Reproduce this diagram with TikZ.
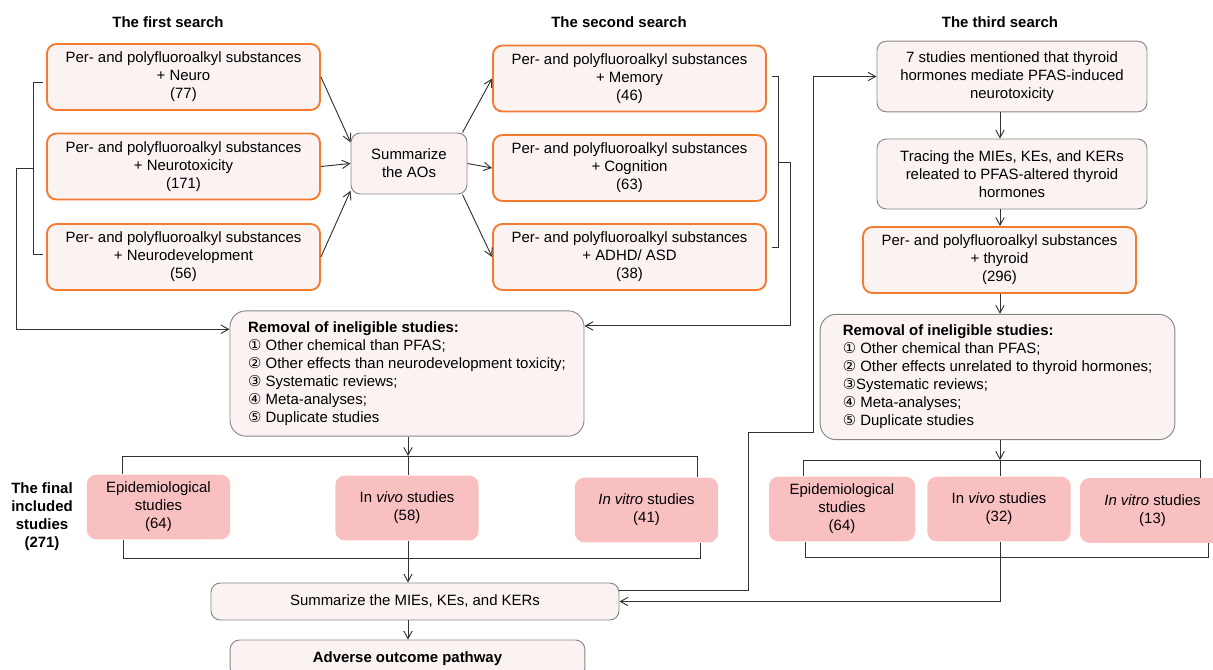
\documentclass[tikz,border=0pt]{standalone}
\usepackage{fontspec}
\setmainfont{Liberation Sans}
\newfontfamily\circfont{DejaVu Sans}
\usepackage{tikz}
\usetikzlibrary{arrows.meta,positioning,calc}
\definecolor{pfedge}{RGB}{50,50,50}
\definecolor{pforange}{RGB}{244,122,48}
\definecolor{pfgrey}{RGB}{135,135,135}
\definecolor{pffill}{RGB}{251,242,242}
\definecolor{pfpink}{RGB}{249,192,194}
\newcommand{\cnum}[1]{{\circfont #1}}
\tikzset{
  pfbox/.style={
    draw=pfgrey, fill=pffill, line width=0.7pt, rounded corners=7pt,
    align=center, inner sep=2pt, font=\fontsize{11.2}{13.5}\selectfont
  },
  srch/.style={pfbox, draw=pforange, line width=1.4pt,
    minimum width=204.75pt, minimum height=49.5pt},
  rmv/.style={pfbox, align=left, rounded corners=12pt,
    minimum width=265.5pt, minimum height=94pt},
  incl/.style={pfbox, draw=none, fill=pfpink,
    minimum width=107.5pt, minimum height=48.5pt},
  ttl/.style={font=\fontsize{11.2}{13.5}\selectfont\bfseries, align=center},
  line/.style={draw=pfedge, line width=0.7pt},
  arr/.style={line, -{Straight Barb[length=2mm,width=2.2mm]}}
}

\begin{document}
\begin{tikzpicture}[x=0.75pt, y=-0.75pt]
  \useasboundingbox (0,0) rectangle (1213,669);
  \node[ttl] (t1) at (168,22) {The first search};
  \node[ttl] (t2) at (619,22) {The second search};
  \node[ttl] (t3) at (1000,22) {The third search};

  \node[srch] (f1) at (183.5,77) {Per- and polyfluoroalkyl substances\\+ Neuro\\(77)};
  \node[srch] (f2) at (183.5,166.5) {Per- and polyfluoroalkyl substances\\+ Neurotoxicity\\(171)};
  \node[srch] (f3) at (183.5,257) {Per- and polyfluoroalkyl substances\\+ Neurodevelopment\\(56)};
  \node[pfbox, minimum width=87pt, minimum height=45.75pt] (sao) at (409,163.5) {Summarize\\the AOs};
  \node[srch] (s1) at (629.5,78.5) {Per- and polyfluoroalkyl substances\\+ Memory\\(46)};
  \node[srch] (s2) at (629.5,168) {Per- and polyfluoroalkyl substances\\+ Cognition\\(63)};
  \node[srch] (s3) at (629.5,257) {Per- and polyfluoroalkyl substances\\+ ADHD/ ASD\\(38)};

  \node[pfbox, minimum width=202.5pt, minimum height=53pt] (th1) at (1012,76.5)
    {7 studies mentioned that thyroid\\hormones mediate PFAS-induced\\neurotoxicity};
  \node[pfbox, minimum width=202.5pt, minimum height=52.5pt] (th2) at (1012,174)
    {Tracing the MIEs, KEs, and KERs\\releated to PFAS-altered thyroid\\hormones};
  \node[srch] (th3) at (999.5,260) {Per- and polyfluoroalkyl substances\\+ thyroid\\(296)};

  \node[rmv] (rm1) at (407,373.5) {\textbf{Removal of ineligible studies:}\\
    \cnum{①} Other chemical than PFAS;\\
    \cnum{②} Other effects than neurodevelopment toxicity;\\
    \cnum{③} Systematic reviews;\\
    \cnum{④} Meta-analyses;\\
    \cnum{⑤} Duplicate studies};
  \node[rmv, minimum width=266pt] (rm2) at (997.5,377) {\textbf{Removal of ineligible studies:}\\
    \cnum{①} Other chemical than PFAS;\\
    \cnum{②} Other effects unrelated to thyroid hormones;\\
    \cnum{③}Systematic reviews;\\
    \cnum{④} Meta-analyses;\\
    \cnum{⑤} Duplicate studies};

  \node[ttl] (fin) at (42,517) {The final\\included\\studies\\(271)};
  \node[incl] (ep1) at (158.5,507) {Epidemiological\\studies\\(64)};
  \node[incl] (iv1) at (407,508) {In \textit{vivo} studies\\(58)};
  \node[incl] (it1) at (646.5,510) {\textit{In vitro} studies\\(41)};
  \node[incl, minimum width=109.5pt] (ep2) at (842,509) {Epidemiological\\studies\\(64)};
  \node[incl] (iv2) at (999,509) {In \textit{vivo} studies\\(32)};
  \node[incl, minimum width=108.75pt] (it2) at (1152.5,510.5) {\textit{In vitro} studies\\(13)};

  \node[pfbox, minimum width=306pt, minimum height=27.75pt] (mie) at (415,601.5) {Summarize the MIEs, KEs, and KERs};
  \node[pfbox, minimum width=266pt, minimum height=28.5pt, font=\fontsize{11.2}{13.5}\selectfont\bfseries] (aop) at (407.5,659) {Adverse outcome pathway};

  % first and second search into the AOs
  \foreach \p/\a in {f1/160,f2/180,f3/205} \draw[arr] (\p.east) -- (sao.\a);
  \draw[arr] ($(sao.north east)+(-5,0)$) -- (s1.west);
  \draw[arr] (sao.east) -- (s2.west);
  \draw[arr] ($(sao.south east)+(-5,0)$) -- (s3.west);

  % brackets to the removal box
  \coordinate (lb1) at (33,82);
  \coordinate (lb2) at (33,254);
  \coordinate (lm) at (33,168);
  \draw[line] ($(lb1)+(10,0)$) -- (lb1) -- (lb2) -- ++(10,0);
  \draw[arr] (lm) -- ++(-17,0) |- (rm1.166);
  \coordinate (rb1) at (778,76);
  \coordinate (rb2) at (778,247);
  \coordinate (rm) at (778,162);
  \draw[line] ($(rb1)+(-6,0)$) -- (rb1) -- (rb2) -- ++(-6,0);
  \draw[arr] (rm) -- ++(12,0) |- (rm1.15);

  % left included studies
  \coordinate (a1) at (122,456);
  \coordinate (b1) at (697,456);
  \coordinate (u1) at (408,456);
  \coordinate (c1) at (123,558);
  \coordinate (d1) at (700,558);
  \coordinate (v1) at (408,558);
  \draw[arr] (u1 |- rm1.south) -- (u1);
  \draw[line] (a1 |- ep1.north) -- (a1) -- (b1) -- (b1 |- it1.north);
  \draw[line] (u1) -- (u1 |- iv1.north);
  \draw[line] (c1 |- ep1.south) -- (c1) -- (d1) -- (d1 |- it1.south);
  \draw[line] (v1 |- iv1.south) -- (v1);
  \draw[arr] (v1) -- (v1 |- mie.north);
  \draw[arr] (v1 |- mie.south) -- (v1 |- aop.north);

  % third search
  \coordinate (tcol) at (1000,0);
  \foreach \p/\q in {th1/th2,th2/th3,th3/rm2} \draw[arr] (tcol |- \p.south) -- (tcol |- \q.north);
  \coordinate (k0) at (748,590);
  \coordinate (k1) at (748,432);
  \coordinate (k2) at (813,432);
  \draw[arr] (mie.east |- k0) -- (k0) -- (k1) -- (k2) |- (th1.west);

  % right included studies
  \coordinate (a2) at (803,460);
  \coordinate (b2) at (1200,460);
  \coordinate (u2) at (1000,460);
  \coordinate (c2) at (805,557);
  \coordinate (d2) at (1208,557);
  \coordinate (v2) at (1000,557);
  \draw[arr] (u2 |- rm2.south) -- (u2);
  \draw[line] (a2 |- ep2.north) -- (a2) -- (b2) -- (b2 |- it2.north);
  \draw[line] (u2) -- (u2 |- iv2.north);
  \draw[line] (c2 |- ep2.south) -- (c2) -- (d2) -- (d2 |- it2.south);
  \draw[line] (v2 |- iv2.south) -- (v2);
  \draw[arr] (v2) |- (mie.east);
\end{tikzpicture}
\end{document}
